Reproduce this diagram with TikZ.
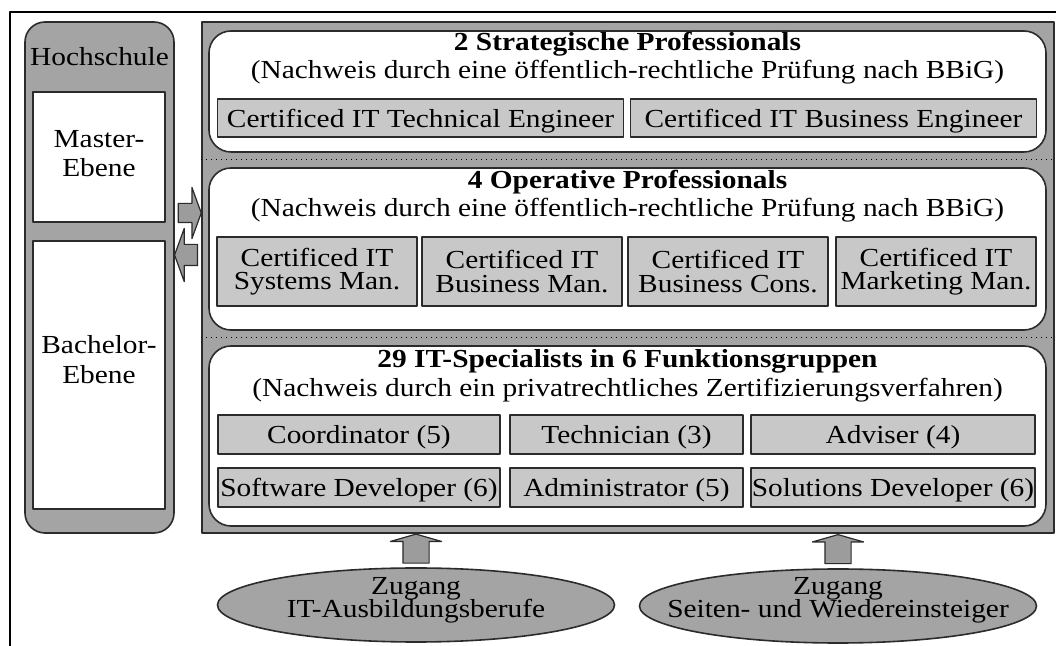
\documentclass[tikz,border=0pt]{standalone}
\usepackage{fontspec}
\setmainfont{Liberation Serif}[FakeStretch=1.13]
\usetikzlibrary{shapes.geometric,shapes.arrows,calc}
\newcommand{\engzeilig}{\lineskiplimit=-100pt\relax}

\begin{document}
\begin{tikzpicture}[x=.5pt,y=-.5pt,line join=round,
    every node/.style={font=\fontsize{13}{15}\selectfont},
    zertifikat/.style={draw=qualiRand,line width=.7pt,fill=qualiKasten,
      inner sep=0pt,align=center,font=\fontsize{13}{11.65}\selectfont},
    einzeilig/.style={zertifikat,text depth=0pt},
    stufe/.style={draw=qualiRand,line width=.8pt,fill=white,
      rounded corners=11pt,inner sep=0pt,minimum width=418.5pt},
    titel/.style={align=center,font=\fontsize{13}{14}\selectfont},
    blockpfeil/.style={single arrow,draw=qualiRand,line width=.6pt,
      fill=qualiPfeil,inner xsep=0pt,minimum width=0pt},
    zugang/.style={ellipse,draw=qualiRand,line width=.8pt,fill=qualiGrau,
      inner sep=0pt,minimum width=198.5pt,minimum height=37pt},
    zugangtext/.style={align=center,
      font=\fontsize{13}{11.5}\selectfont\engzeilig}]
  \definecolor{qualiRand}{HTML}{2B2B2B}
  \definecolor{qualiGrau}{HTML}{A4A4A4}
  \definecolor{qualiKasten}{HTML}{C8C8C8}
  \definecolor{qualiPfeil}{HTML}{9C9C9C}
  \useasboundingbox (0,0) rectangle (1056,646);

  % Seitenrand oben und links
  \draw[line width=1pt] (10,646) -- (10,12) -- (1056,12);

  % Hochschule mit Master- und Bachelor-Ebene
  \node[draw=qualiRand,line width=.8pt,fill=qualiGrau,rounded corners=10pt,
        inner sep=0pt,minimum width=74.5pt,minimum height=255.5pt]
    (hochschule) at (99.5,277.5) {};
  \node (hstitel) at (99.5,57) {Hochschule};
  \node[draw=qualiRand,line width=.7pt,fill=white,inner sep=0pt,
        minimum width=66pt,minimum height=65pt] (master) at (99,157) {};
  \node[align=center,font=\fontsize{13}{14.5}\selectfont]
    (mastertext) at (99,154) {Master-\\Ebene};
  \node[draw=qualiRand,line width=.7pt,fill=white,inner sep=0pt,
        minimum width=66pt,minimum height=134pt] (bachelor) at (99,375) {};
  \node[align=center,font=\fontsize{13}{15}\selectfont]
    (bachelortext) at (99,360) {Bachelor-\\Ebene};

  % Rahmen der drei Stufen
  \node[draw=qualiRand,line width=.8pt,fill=qualiGrau,inner sep=0pt,
        minimum width=426pt,minimum height=255.5pt] (gesamt) at (628,277.5) {};
  \node[stufe,minimum height=60.5pt] (strategisch) at (627.5,91.5) {};
  \node[stufe,minimum height=81pt] (operativ) at (627.5,249) {};
  \node[stufe,minimum height=90pt] (spezialisten) at (627.5,436) {};
  \coordinate (fuge1) at ($(strategisch.south)!.5!(operativ.north)$);
  \coordinate (fuge2) at ($(operativ.south)!.5!(spezialisten.north)$);
  \draw[dotted,line width=.5pt] (gesamt.west |- fuge1) -- (gesamt.east |- fuge1)
    (gesamt.west |- fuge2) -- (gesamt.east |- fuge2);

  % Pfeile zwischen Hochschule und Stufen
  \node[blockpfeil,minimum height=11.5pt,inner ysep=4.5pt,
        single arrow head extend=8pt,single arrow tip angle=140]
    (hinueber) at ($(hochschule.east)!.5!(gesamt.west)+(0,-64.5)$) {};
  \node[blockpfeil,rotate=180,minimum height=11.5pt,inner ysep=5pt,
        single arrow head extend=8pt,single arrow tip angle=140]
    (zurueck) at ($(hochschule.east)!.5!(gesamt.west)+(0,-22.5)$) {};

  % Strategische Professionals
  \node[titel] (titel1) at (627.5,58)
    {\textbf{2 Strategische Professionals}\\
     (Nachweis durch eine öffentlich-rechtliche Prüfung nach BBiG)};
  \node[einzeilig,minimum width=203pt,minimum height=19pt]
    (technical) at (420.5,118) {Certificed IT Technical Engineer};
  \node[einzeilig,minimum width=203pt,minimum height=19pt]
    (business) at (833.5,118) {Certificed IT Business Engineer};

  % Operative Professionals
  \node[titel] (titel2) at (627.5,196)
    {\textbf{4 Operative Professionals}\\
     (Nachweis durch eine öffentlich-rechtliche Prüfung nach BBiG)};
  \foreach \x/\name/\txt in {317/sysman/Systems Man.,522/busman/Business Man.,
                             728/buscons/Business Cons.,936/markman/Marketing Man.}{
    \node[zertifikat,minimum width=100pt,minimum height=34.5pt]
      (\name) at (\x,271.5) {Certificed IT\\\txt};
  }

  % IT-Specialists
  \node[titel,font=\fontsize{13}{14.5}\selectfont] (titel3) at (627.5,376)
    {\textbf{29 IT-Specialists in 6 Funktionsgruppen}\\
     (Nachweis durch ein privatrechtliches Zertifizierungsverfahren)};
  \foreach \x/\w/\name/\txt in {359/141/coord/Coordinator (5),
                                626.5/116.5/techn/Technician (3),
                                893/142/advis/Adviser (4)}{
    \node[einzeilig,minimum width=\w pt,minimum height=19.5pt]
      (\name) at (\x,434.5) {\txt};
  }
  \foreach \x/\w/\name/\txt in {359/141/softw/Software Developer (6),
                                626.5/116.5/admin/Administrator (5),
                                893/142/solut/Solutions Developer (6)}{
    \node[einzeilig,minimum width=\w pt,minimum height=19.5pt]
      (\name) at (\x,487.5) {\txt};
  }

  % Zugaenge von unten
  \node[zugang] (ausbildung) at (416,605) {};
  \node[zugangtext] (ausbildungtext) at (416,600) {Zugang\\IT-Ausbildungsberufe};
  \node[zugang] (einsteiger) at (838,606) {};
  \node[zugangtext] (einsteigertext) at (838,600)
    {Zugang\\Seiten- und Wiedereinsteiger};
  \foreach \z in {ausbildung,einsteiger}{
    \node[blockpfeil,rotate=90,minimum height=14.5pt,inner ysep=6.25pt,
          single arrow head extend=6.25pt,single arrow tip angle=148]
      at ($(\z.north)!.5!(gesamt.south -| \z.north)$) {};
  }
\end{tikzpicture}
\end{document}
